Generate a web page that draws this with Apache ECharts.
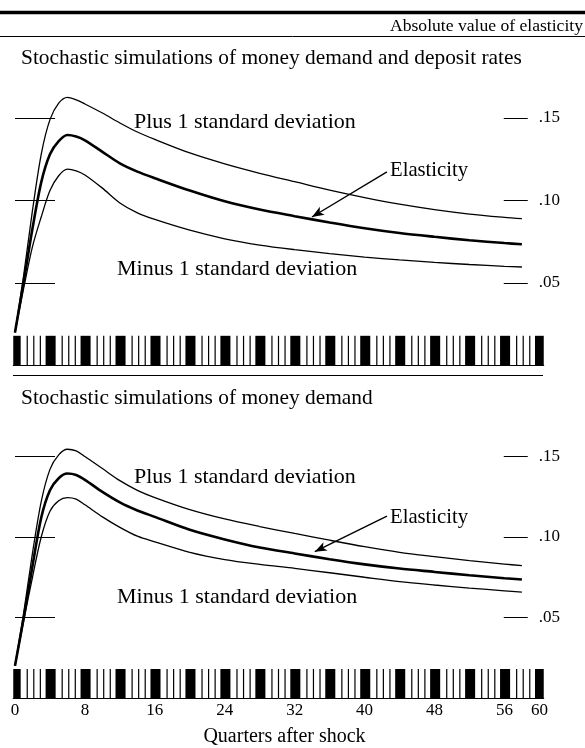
<!DOCTYPE html>
<html><head><meta charset="utf-8">
<script src="https://cdn.jsdelivr.net/npm/echarts@6/dist/echarts.min.js"></script>
<style>html,body{margin:0;padding:0;background:#fff}#c{width:585px;height:748px}</style>
</head><body><div id="c"></div>
<script>
// ---- data ----
const QUARTERS = [0,1,2,3,4,5,6,7,8,10,12,14,16,20,24,28,32,36,40,44,48,52,56,58];
// Panel A: money demand and deposit rates
const A_PLUS  = [0.020,0.055,0.094,0.128,0.149,0.159,0.1625,0.161,0.1585,0.1530,0.1470,0.1415,0.1370,0.1288,0.1222,0.1165,0.1114,0.1063,0.1018,0.0978,0.0945,0.0918,0.0898,0.0890];
const A_ELAST = [0.020,0.051,0.083,0.111,0.128,0.136,0.1397,0.1388,0.1365,0.1295,0.1225,0.1175,0.1135,0.1060,0.0995,0.0945,0.0905,0.0867,0.0832,0.0803,0.0780,0.0759,0.0742,0.0735];
const A_MINUS = [0.020,0.047,0.072,0.090,0.106,0.115,0.119,0.118,0.1155,0.1075,0.0985,0.0925,0.0885,0.0820,0.0768,0.0730,0.0702,0.0678,0.0657,0.0640,0.0625,0.0612,0.0601,0.0597];
// Panel B: money demand
const B_PLUS  = [0.020,0.053,0.090,0.122,0.142,0.151,0.1545,0.1535,0.150,0.1425,0.135,0.129,0.1245,0.117,0.1112,0.1065,0.1022,0.0980,0.0940,0.0905,0.0878,0.0853,0.0832,0.0822];
const B_ELAST = [0.020,0.050,0.082,0.112,0.129,0.1365,0.1394,0.1385,0.1355,0.128,0.1215,0.1165,0.1125,0.1045,0.0985,0.0935,0.0898,0.0862,0.0830,0.0804,0.0783,0.0762,0.0744,0.0736];
const B_MINUS = [0.020,0.048,0.075,0.100,0.116,0.1225,0.1244,0.1235,0.120,0.1125,0.106,0.1005,0.097,0.0905,0.086,0.0830,0.0805,0.0778,0.0750,0.0723,0.0702,0.0683,0.0666,0.0658];
// axes
const X_LABELS = [0,8,16,24,32,40,48,56,60];
const Y_TICKS = [0.05,0.10,0.15];
// time-axis strip (thick = year marks, thin = intermediate marks)
const THICK_MARKS = [0,4,8,12,16,20,24,28,32,36,40,44,48,52,56,60];
const THIN_MARKS = [1.4,2.15,2.9,5.4,6.15,6.9,9.4,10.15,10.9,13.4,14.15,14.9,17.4,18.15,18.9,21.4,22.15,22.9,25.4,26.15,26.9,29.4,30.15,30.9,33.4,34.15,34.9,37.4,38.15,38.9,41.4,42.15,42.9,45.4,46.15,46.9,49.4,50.15,50.9,53.4,54.15,54.9,57.4,58.15,58.9];
const STRIP_TOP = 0.018;

const FONT = '"Liberation Serif", "Times New Roman", serif';
const pairs = ys => QUARTERS.map((q, i) => [q, ys[i]]);

function strip(g) {
  return {
    type: 'custom', xAxisIndex: g, yAxisIndex: g * 2, silent: true, z: 1,
    data: THICK_MARKS.map(q => [q, 1]).concat(THIN_MARKS.map(q => [q, 0])),
    renderItem(params, api) {
      const q = api.value(0), thick = api.value(1) === 1;
      const cs = params.coordSys;
      if (thick) {
        const p0 = api.coord([q - 0.5, STRIP_TOP]);
        const p1 = api.coord([q + 0.65, 0]);
        const r = echarts.graphic.clipRectByRect(
          { x: p0[0], y: p0[1], width: p1[0] - p0[0], height: p1[1] - p0[1] },
          { x: cs.x, y: cs.y, width: cs.width, height: cs.height });
        return r && { type: 'rect', shape: r, style: { fill: '#000' } };
      }
      const a = api.coord([q, 0]), b = api.coord([q, STRIP_TOP]);
      return { type: 'line', shape: { x1: a[0], y1: a[1], x2: b[0], y2: b[1] }, style: { stroke: '#000', lineWidth: 1.2 } };
    }
  };
}

function line(g, ys, w, arrow) {
  const s = {
    type: 'line', xAxisIndex: g, yAxisIndex: g * 2, data: pairs(ys), smooth: 0.3,
    symbol: 'none', lineStyle: { color: '#000', width: w }, z: 3, silent: true
  };
  if (arrow) {
    s.markLine = {
      silent: true, symbol: ['none', 'arrow'], symbolSize: [7, 12],
      lineStyle: { color: '#000', width: 1.4, type: 'solid' }, label: { show: false },
      data: [[{ coord: arrow[0] }, { coord: arrow[1] }]]
    };
  }
  return s;
}

const xAxisBase = {
  type: 'value', min: -0.2, max: 60.5,
  axisLine: { show: true, lineStyle: { color: '#000', width: 1 } },
  axisTick: { show: false }, splitLine: { show: false }
};
function yLeft(g) {
  return {
    type: 'value', gridIndex: g, min: 0, max: 0.2, position: 'left',
    axisLine: { show: false }, splitLine: { show: false }, axisLabel: { show: false },
    axisTick: { show: true, inside: true, length: 40, customValues: Y_TICKS, lineStyle: { color: '#000', width: 1 } }
  };
}
function yRight(g) {
  return {
    type: 'value', gridIndex: g, min: 0, max: 0.2, position: 'right', offset: -16,
    axisLine: { show: false }, splitLine: { show: false },
    axisTick: { show: true, inside: true, length: 24, customValues: Y_TICKS, lineStyle: { color: '#000', width: 1 } },
    axisLabel: { show: true, customValues: Y_TICKS, margin: 11, fontFamily: FONT, fontSize: 17, color: '#000',
      formatter: v => v.toFixed(2).replace(/^0/, '') }
  };
}

function txt(x, y, s, size, align) {
  return { type: 'text', x: x, y: y, silent: true, z: 10,
    style: { text: s, font: size + 'px ' + FONT, fill: '#000', textAlign: align || 'left', textVerticalAlign: 'middle' } };
}

const chart = echarts.init(document.getElementById('c'), null, { renderer: 'canvas' });
chart.setOption({
  animation: false,
  backgroundColor: '#fff',
  grid: [
    { left: 13.25, width: 530.5, top: 35.5, height: 330 },
    { left: 13.25, width: 530.5, top: 376, height: 330 }
  ],
  xAxis: [
    Object.assign({}, xAxisBase, { gridIndex: 0, axisLabel: { show: false } }),
    Object.assign({}, xAxisBase, { gridIndex: 1,
      axisLabel: { show: true, customValues: X_LABELS, margin: 4, fontFamily: FONT, fontSize: 17, color: '#000' },
      name: 'Quarters after shock', nameLocation: 'middle', nameGap: 29,
      nameTextStyle: { fontFamily: FONT, fontSize: 20, color: '#000', padding: [0, 0, 0, 12] } })
  ],
  yAxis: [yLeft(0), yRight(0), yLeft(1), yRight(1)],
  series: [
    strip(0), strip(1),
    line(0, A_PLUS, 1.3), line(0, A_ELAST, 2.6, [[42.56, 0.1173], [33.98, 0.0900]]), line(0, A_MINUS, 1.3),
    line(1, B_PLUS, 1.3), line(1, B_ELAST, 2.6, [[42.56, 0.1130], [34.3, 0.0909]]), line(1, B_MINUS, 1.3)
  ],
  graphic: [
    { type: 'line', shape: { x1: 0, y1: 12.5, x2: 585, y2: 12.5 }, style: { stroke: '#000', lineWidth: 3.5 }, silent: true },
    { type: 'line', shape: { x1: 0, y1: 36.5, x2: 585, y2: 36.5 }, style: { stroke: '#000', lineWidth: 1 }, silent: true },
    { type: 'line', shape: { x1: 13, y1: 375.5, x2: 543, y2: 375.5 }, style: { stroke: '#000', lineWidth: 1.2 }, silent: true },
    txt(583, 26, 'Absolute value of elasticity', 17.6, 'right'),
    txt(21, 58, 'Stochastic simulations of money demand and deposit rates', 21.4),
    txt(134, 122, 'Plus 1 standard deviation', 22),
    txt(390, 171, 'Elasticity', 20.7),
    txt(117, 269.5, 'Minus 1 standard deviation', 22),
    txt(21, 398, 'Stochastic simulations of money demand', 21.4),
    txt(134, 477, 'Plus 1 standard deviation', 22),
    txt(390, 518, 'Elasticity', 20.7),
    txt(117, 597, 'Minus 1 standard deviation', 22)
  ]
});
</script></body></html>
